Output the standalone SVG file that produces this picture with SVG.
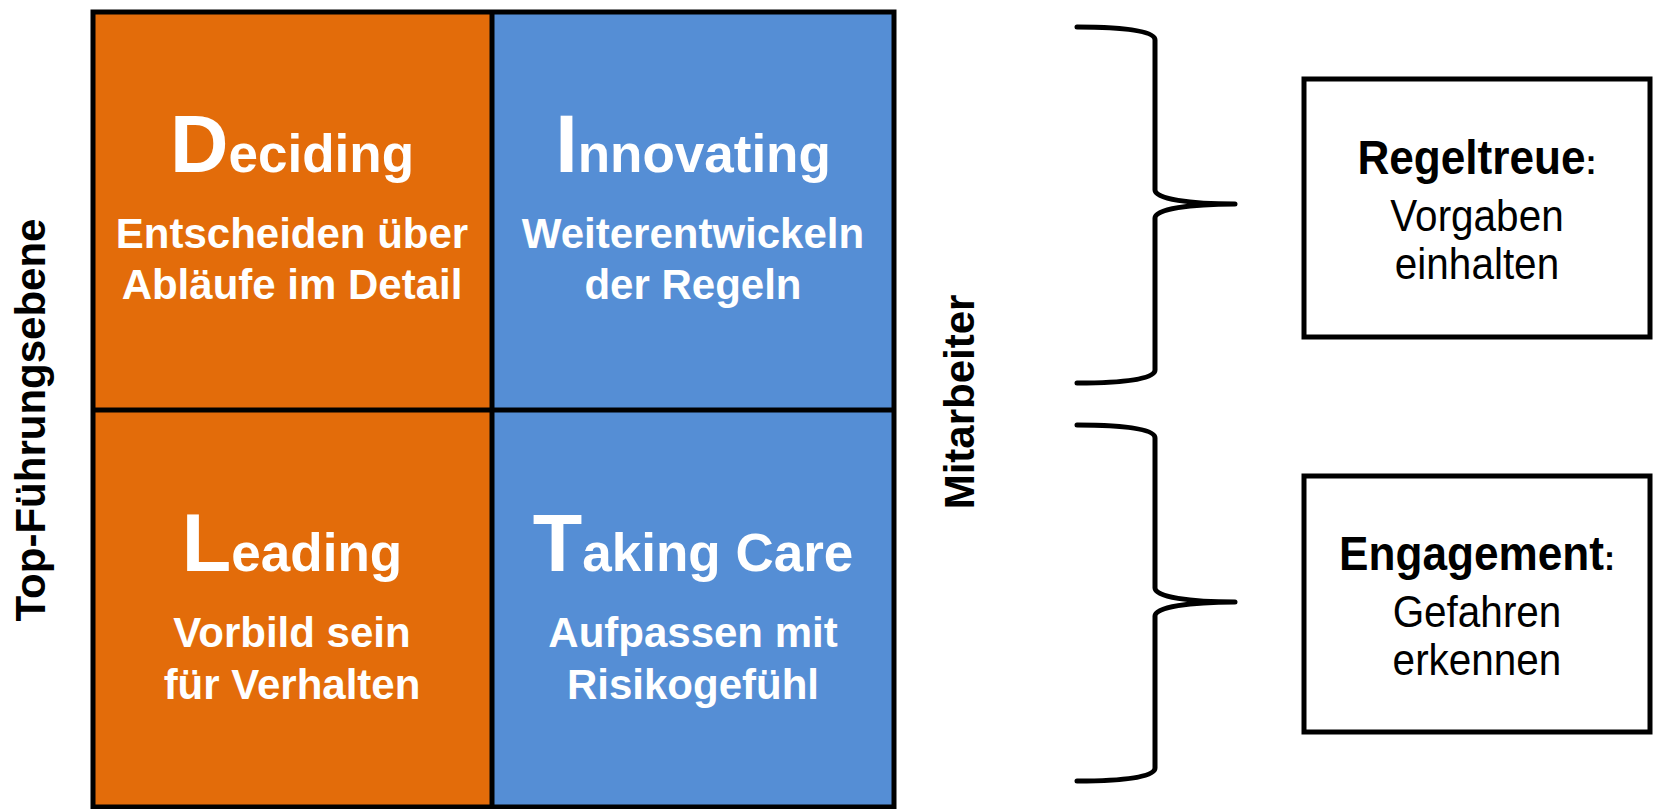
<svg xmlns="http://www.w3.org/2000/svg" width="1653" height="809" viewBox="0 0 1653 809">
  <style>
    .cell-o { fill: #E36C0A; }
    .cell-b { fill: #558ED5; }
    .grid { fill: none; stroke: #000; stroke-width: 5; }
    .title { font-family: "Liberation Sans", Arial, sans-serif; font-weight: bold; fill: #fff; text-anchor: middle; }
    .big { font-size: 81px; }
    .rest { font-size: 53px; }
    .sub { font-family: "Liberation Sans", Arial, sans-serif; font-weight: bold; font-size: 42px; fill: #fff; text-anchor: middle; }
    .axis { font-family: "Liberation Sans", Arial, sans-serif; font-weight: bold; font-size: 42px; fill: #000; text-anchor: middle; }
    .brace { fill: none; stroke: #000; stroke-width: 5; stroke-linecap: round; stroke-linejoin: round; }
    .box { fill: #fff; stroke: #000; stroke-width: 5; }
    .bhead { font-family: "Liberation Sans", Arial, sans-serif; font-weight: bold; font-size: 48px; fill: #000; text-anchor: middle; }
    .colon { font-size: 36px; }
    .btext { font-family: "Liberation Sans", Arial, sans-serif; font-size: 44px; fill: #000; text-anchor: middle; }
  </style>
  <defs>
    <path id="brace" d="M1077,27 C1125,27 1155,31 1155,40 L1155,190 C1155,199 1190,204 1235,204 C1190,204 1155,209 1155,218 L1155,370 C1155,379 1125,383 1077,383"/>
  </defs>

  <!-- axis labels -->
  <text id="label-top" class="axis" transform="translate(45,420) rotate(-90)">Top-Führungsebene</text>
  <text id="label-staff" class="axis" transform="translate(974,402) rotate(-90)">Mitarbeiter</text>

  <!-- 2x2 matrix -->
  <g id="cell-deciding">
    <rect class="cell-o" x="93" y="12" width="399" height="398"/>
    <text class="title" x="292" y="172"><tspan class="big">D</tspan><tspan class="rest">eciding</tspan></text>
    <text class="sub" x="292" y="248">Entscheiden über</text>
    <text class="sub" x="292" y="299">Abläufe im Detail</text>
  </g>
  <g id="cell-innovating">
    <rect class="cell-b" x="492" y="12" width="402" height="398"/>
    <text class="title" x="693" y="172"><tspan class="big">I</tspan><tspan class="rest">nnovating</tspan></text>
    <text class="sub" x="693" y="248">Weiterentwickeln</text>
    <text class="sub" x="693" y="299">der Regeln</text>
  </g>
  <g id="cell-leading">
    <rect class="cell-o" x="93" y="410" width="399" height="397"/>
    <text class="title" x="292" y="571"><tspan class="big">L</tspan><tspan class="rest">eading</tspan></text>
    <text class="sub" x="292" y="647">Vorbild sein</text>
    <text class="sub" x="292" y="699">für Verhalten</text>
  </g>
  <g id="cell-taking-care">
    <rect class="cell-b" x="492" y="410" width="402" height="397"/>
    <text class="title" x="693" y="571"><tspan class="big">T</tspan><tspan class="rest">aking Care</tspan></text>
    <text class="sub" x="693" y="647">Aufpassen mit</text>
    <text class="sub" x="693" y="699">Risikogefühl</text>
  </g>
  <g id="grid-lines">
    <rect class="grid" x="93" y="12" width="801" height="795"/>
    <line class="grid" x1="492" y1="12" x2="492" y2="807"/>
    <line class="grid" x1="93" y1="410" x2="894" y2="410"/>
  </g>

  <!-- braces -->
  <g id="connectors">
    <use href="#brace" class="brace"/>
    <use href="#brace" class="brace" transform="translate(0,398)"/>
  </g>

  <!-- result boxes (condensed lettering) -->
  <g id="box-regeltreue">
    <rect class="box" x="1304" y="79" width="346" height="258"/>
    <g transform="translate(1477,0) scale(0.92,1)">
      <text class="bhead" x="0" y="174">Regeltreue<tspan class="colon">:</tspan></text>
      <text class="btext" x="0" y="231">Vorgaben</text>
      <text class="btext" x="0" y="279">einhalten</text>
    </g>
  </g>
  <g id="box-engagement">
    <rect class="box" x="1304" y="476" width="346" height="256"/>
    <g transform="translate(1477,0) scale(0.92,1)">
      <text class="bhead" x="0" y="570">Engagement<tspan class="colon">:</tspan></text>
      <text class="btext" x="0" y="627">Gefahren</text>
      <text class="btext" x="0" y="675">erkennen</text>
    </g>
  </g>
</svg>
